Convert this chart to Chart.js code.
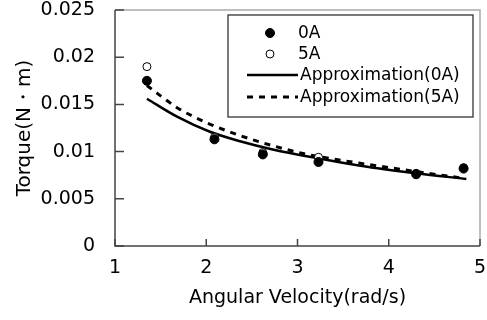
<!DOCTYPE html>
<html>
<head>
<meta charset="utf-8">
<script src="https://cdn.jsdelivr.net/npm/chart.js@4.4.0/dist/chart.umd.min.js"></script>
<style>
  body { margin: 0; background: #fff; }
  #wrap { width: 487px; height: 320px; }
</style>
</head>
<body>
<div id="wrap"><canvas id="torque" width="487" height="320"></canvas></div>
<script>
// measured points
const speed = [1.35, 2.09, 2.62, 3.23, 4.30, 4.82];
const torque0A = [0.0175, 0.0113, 0.0097, 0.0089, 0.0076, 0.0082];
const torque5A = [0.0190, 0.0115, 0.0099, 0.0094, 0.0077, 0.0083];

// approximation curves
const fitSpeed0A = [1.35, 1.68, 2.04, 2.37, 2.74, 3.22, 3.69, 4.30, 4.85];
const fitTorque0A = [0.0156, 0.0137, 0.0121, 0.0111, 0.0102, 0.0093, 0.0085, 0.0077, 0.0071];
const fitSpeed5A = [1.35, 1.69, 2.02, 2.37, 2.70, 3.06, 3.40, 3.73, 4.43, 4.80];
const fitTorque5A = [0.0170, 0.0146, 0.0130, 0.0117, 0.0107, 0.0098, 0.0092, 0.0087, 0.0077, 0.0072];

const yTickLabels = ['0', '0.005', '0.01', '0.015', '0.02', '0.025'];
const xTickLabels = ['1', '2', '3', '4', '5'];
const legendNames = ['0A', '5A', 'Approximation(0A)', 'Approximation(5A)'];

const FONT = "'DejaVu Sans', sans-serif";

function pts(xs, ys) {
  return xs.map((x, i) => ({ x: x, y: ys[i] }));
}

// frame + inward tick marks
const framePlugin = {
  id: 'frame',
  beforeDatasetsDraw(chart) {
    const { ctx, chartArea: a, scales } = chart;
    ctx.save();
    ctx.lineWidth = 1.5;
    ctx.strokeStyle = '#aaa';
    ctx.beginPath();
    ctx.moveTo(a.left, a.top);
    ctx.lineTo(a.right, a.top);
    ctx.lineTo(a.right, a.bottom);
    ctx.stroke();
    ctx.strokeStyle = '#444';
    ctx.beginPath();
    ctx.moveTo(a.left, a.top);
    ctx.lineTo(a.left, a.bottom);
    ctx.lineTo(a.right, a.bottom);
    ctx.stroke();
    ctx.beginPath();
    scales.y.ticks.forEach(t => {
      const py = scales.y.getPixelForValue(t.value);
      ctx.moveTo(a.left, py);
      ctx.lineTo(a.left + 9, py);
    });
    scales.x.ticks.forEach(t => {
      const px = scales.x.getPixelForValue(t.value);
      ctx.moveTo(px, a.bottom);
      ctx.lineTo(px, a.bottom - 7);
    });
    ctx.stroke();
    ctx.restore();
  }
};

// boxed legend inside the plot
const legendPlugin = {
  id: 'boxLegend',
  afterDatasetsDraw(chart) {
    const ctx = chart.ctx;
    const bx = 228, by = 15, bw = 245, bh = 102;
    ctx.save();
    ctx.fillStyle = '#fff';
    ctx.fillRect(bx, by, bw, bh);
    ctx.strokeStyle = '#333';
    ctx.lineWidth = 1.3;
    ctx.strokeRect(bx, by, bw, bh);
    const rows = [33, 54, 75, 97];
    ctx.font = '17px ' + FONT;
    ctx.textBaseline = 'middle';
    rows.forEach((ry, i) => {
      const ds = chart.data.datasets[i];
      if (ds.showLine) {
        ctx.strokeStyle = '#000';
        ctx.lineWidth = ds.borderWidth;
        ctx.setLineDash(ds.borderDash || []);
        ctx.beginPath();
        ctx.moveTo(247, ry);
        ctx.lineTo(298, ry);
        ctx.stroke();
        ctx.setLineDash([]);
      } else {
        ctx.beginPath();
        ctx.arc(270, ry, ds.pointRadius, 0, Math.PI * 2);
        ctx.fillStyle = ds.pointBackgroundColor;
        ctx.fill();
        ctx.lineWidth = 1;
        ctx.strokeStyle = '#000';
        ctx.stroke();
      }
      ctx.fillStyle = '#000';
      ctx.fillText(legendNames[i], i < 2 ? 298 : 300, ry + 1);
    });
    ctx.restore();
  }
};

new Chart(document.getElementById('torque'), {
  type: 'scatter',
  data: {
    datasets: [
      {
        label: legendNames[0],
        data: pts(speed, torque0A),
        pointRadius: 4.5,
        pointBackgroundColor: '#000',
        pointBorderColor: '#000',
        showLine: false,
        order: 1
      },
      {
        label: legendNames[1],
        data: pts(speed, torque5A),
        pointRadius: 4,
        pointBackgroundColor: '#fff',
        pointBorderColor: '#000',
        pointBorderWidth: 1,
        showLine: false,
        order: 2
      },
      {
        label: legendNames[2],
        data: pts(fitSpeed0A, fitTorque0A),
        showLine: true,
        pointRadius: 0,
        borderColor: '#000',
        borderWidth: 2.5,
        cubicInterpolationMode: 'monotone',
        order: 4
      },
      {
        label: legendNames[3],
        data: pts(fitSpeed5A, fitTorque5A),
        showLine: true,
        pointRadius: 0,
        borderColor: '#000',
        borderWidth: 3,
        borderDash: [6, 6],
        cubicInterpolationMode: 'monotone',
        order: 3
      }
    ]
  },
  options: {
    responsive: false,
    animation: false,
    devicePixelRatio: 1,
    layout: { padding: { top: 10, right: 7, left: 0, bottom: 0 } },
    plugins: {
      legend: { display: false },
      tooltip: { enabled: false }
    },
    scales: {
      x: {
        type: 'linear',
        min: 1,
        max: 5,
        ticks: {
          stepSize: 1,
          padding: 11,
          color: '#000',
          font: { family: FONT, size: 19 },
          callback: (v) => xTickLabels[v - 1]
        },
        grid: { display: false, drawTicks: false },
        border: { display: false },
        title: {
          display: true,
          text: 'Angular Velocity(rad/s)',
          color: '#000',
          font: { family: FONT, size: 19 },
          padding: { top: 0, bottom: 11 }
        },
        afterFit: (s) => { s.height = 74; s.paddingLeft = 0; s.paddingRight = 0; }
      },
      y: {
        type: 'linear',
        min: 0,
        max: 0.025,
        ticks: {
          stepSize: 0.005,
          padding: 20,
          color: '#000',
          font: { family: FONT, size: 19 },
          callback: (v) => yTickLabels[Math.round(v / 0.005)]
        },
        grid: { display: false, drawTicks: false },
        border: { display: false },
        title: {
          display: true,
          text: 'Torque(N・m)',
          color: '#000',
          font: { family: FONT, size: 20 },
          padding: { top: 13, bottom: 0 }
        },
        afterFit: (s) => { s.width = 115; s.paddingTop = 0; s.paddingBottom = 0; }
      }
    }
  },
  plugins: [framePlugin, legendPlugin]
});
</script>
</body>
</html>
